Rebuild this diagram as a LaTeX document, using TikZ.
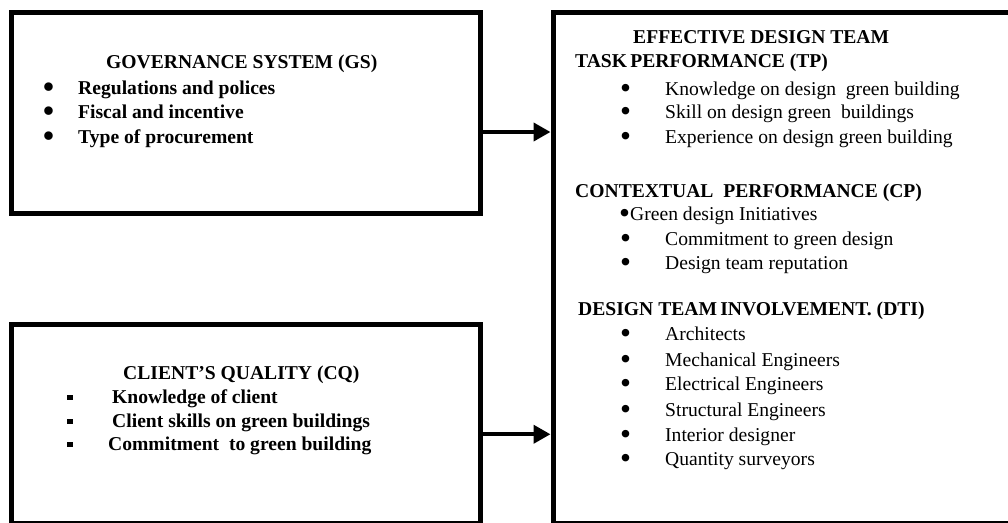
\documentclass[tikz,border=0pt]{standalone}
\usepackage{fontspec}
\usepackage{graphicx}
\setmainfont{Liberation Serif}
\usetikzlibrary{arrows.meta}
\newcommand{\bigDot}{\raisebox{-3pt}{\scalebox{1.6}{\textbullet}}}
\newcommand{\dotItem}[1]{\makebox[#1][l]{\bigDot}}
\newcommand{\sqItem}[1]{\makebox[#1][l]{\raisebox{3pt}{\rule{5.5pt}{5.5pt}}}}
\tikzset{
    box/.style={draw=black, line width=5pt, fill=white, inner sep=0pt},
    lineText/.style={anchor=base west, inner sep=0pt, font=\fontsize{19.6}{24}\selectfont},
    boldText/.style={lineText, font=\fontsize{19.6}{24}\selectfont\bfseries},
    flow/.style={line width=4pt, -{Triangle[length=17pt,width=18pt]}}
}
\begin{document}
\begin{tikzpicture}[x=1pt,y=-1pt]
	\useasboundingbox (0,0) rectangle (1008,522);
	\clip (0,0) rectangle (1008,522);
	% the three frames
	\node[box, minimum width=469pt, minimum height=200.5pt] (gs) at (245.5,112.75) {};
	\node[box, minimum width=469pt, minimum height=199.5pt] (cq) at (245.5,423.75) {};
	\node[box, minimum width=494pt, minimum height=511pt] (edt) at (800,268) {};
	% governance system
	\node[boldText] (gsTitle) at (106,68) {GOVERNANCE SYSTEM (GS)};
	\node[boldText] (gsRegul) at (43,94) {\dotItem{35pt}Regulations and polices};
	\node[boldText] (gsFiscal) at (43,118) {\dotItem{35pt}Fiscal and incentive};
	\node[boldText] (gsProcure) at (43,143) {\dotItem{35pt}Type of procurement};
	% client's quality
	\node[boldText] (cqTitle) at (123,379) {CLIENT'S QUALITY (CQ)};
	\node[boldText] (cqKnow) at (67,403) {\sqItem{45pt}Knowledge of client};
	\node[boldText] (cqSkill) at (67,427) {\sqItem{45pt}Client skills on green buildings};
	\node[boldText] (cqCommit) at (67,450) {\sqItem{41pt}Commitment\ \ to green building};
	% effective design team
	\node[boldText] (edtTitle) at (633,43) {EFFECTIVE DESIGN TEAM};
	\node[boldText] (tpHead) at (575,67) {TASK\,PERFORMANCE (TP)};
	\node[lineText] (tpKnow) at (620,95) {\dotItem{45pt}Knowledge on design\ \ green building};
	\node[lineText] (tpSkill) at (620,118) {\dotItem{45pt}Skill on design green\ \ buildings};
	\node[lineText] (tpExper) at (620,143) {\dotItem{45pt}Experience on design green building};
	\node[boldText] (cpHead) at (575,197) {CONTEXTUAL\ \ PERFORMANCE (CP)};
	\node[lineText] (cpInit) at (619,220) {\bigDot Green design Initiatives};
	\node[lineText] (cpCommit) at (620,245) {\dotItem{45pt}Commitment to green design};
	\node[lineText] (cpRepute) at (620,269) {\dotItem{45pt}Design team reputation};
	\node[boldText] (dtiHead) at (578,315) {DESIGN TEAM\,INVOLVEMENT. (DTI)};
	\node[lineText] (dtiArch) at (620,340) {\dotItem{45pt}Architects};
	\node[lineText] (dtiMech) at (620,366) {\dotItem{45pt}Mechanical Engineers};
	\node[lineText] (dtiElec) at (620,390) {\dotItem{45pt}Electrical Engineers};
	\node[lineText] (dtiStruct) at (620,416) {\dotItem{45pt}Structural Engineers};
	\node[lineText] (dtiInter) at (620,441) {\dotItem{45pt}Interior designer};
	\node[lineText] (dtiQuant) at (620,465) {\dotItem{45pt}Quantity surveyors};
	% arrows into the team frame
	\draw[flow] ([yshift=-19.25pt]gs.east) -- ([yshift=-19.25pt]gs.east -| edt.west);
	\draw[flow] ([yshift=-10.5pt]cq.east) -- ([yshift=-10.5pt]cq.east -| edt.west);
\end{tikzpicture}
\end{document}
